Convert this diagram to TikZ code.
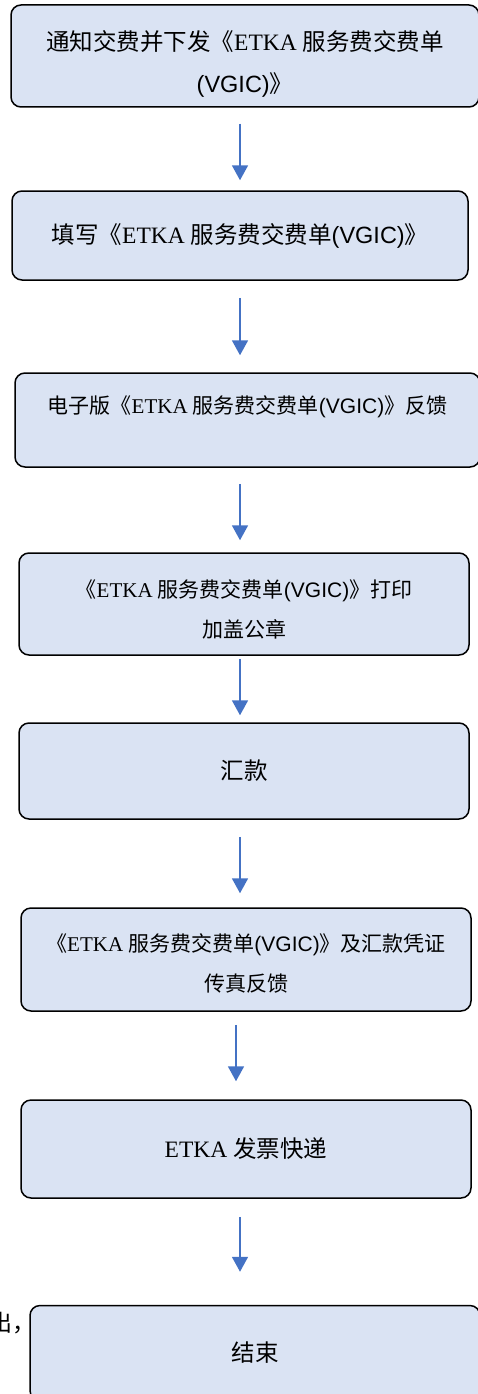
\documentclass[tikz,border=0pt]{standalone}
\usepackage{fontspec}
\setmainfont{Liberation Serif}
\setsansfont{Liberation Sans}
\newfontfamily\cjk{Noto Sans CJK SC}
\usetikzlibrary{arrows.meta}
\newcommand{\zh}[1]{{\cjk #1}}
\newcommand{\vgic}{{\sffamily(VGIC)}}
\newcommand{\lift}[1]{\rule{0pt}{#1}}
\definecolor{boxfill}{HTML}{DAE3F3}
\definecolor{arrowblue}{HTML}{4472C4}
\tikzset{
  stepbox/.style={draw=black, line width=1.5pt, fill=boxfill, rounded corners=10pt,
    align=center, inner sep=0pt, font=\fontsize{23.5}{42}\selectfont},
  small/.style={font=\fontsize{21}{40}\selectfont},
  flow/.style={draw=arrowblue, line width=1.8pt, -{Triangle[length=15pt,width=16pt]}}
}

\begin{document}
\begin{tikzpicture}[x=1pt,y=-1pt]
\useasboundingbox (0,0) rectangle (478,1394);
\coordinate (axis) at (240,0);
\coordinate (axisb) at (236,0);

\node[stepbox, minimum width=468pt, minimum height=102pt] (b1) at (245,56)
  {\lift{35pt}\zh{通知交费并下发《}ETKA \zh{服务费交费单}\\\vgic\zh{》}};
\node[stepbox, minimum width=456pt, minimum height=89pt] (b2) at (240,235.5)
  {\zh{填写《}ETKA \zh{服务费交费单}\vgic\zh{》}};
\node[stepbox, small, minimum width=465pt, minimum height=94pt, text depth=30pt] (b3) at (247.5,420)
  {\zh{电子版《}ETKA \zh{服务费交费单}\vgic\zh{》反馈}};
\node[stepbox, small, minimum width=450pt, minimum height=102pt] (b4) at (244,604)
  {\lift{28.5pt}\zh{《}ETKA \zh{服务费交费单}\vgic\zh{》打印}\\\zh{加盖公章}};
\node[stepbox, minimum width=450pt, minimum height=96pt] (b5) at (244,771)
  {\zh{汇款}};
\node[stepbox, small, minimum width=450pt, minimum height=103pt] (b6) at (246,959.5)
  {\lift{26.5pt}\zh{《}ETKA \zh{服务费交费单}\vgic\zh{》及汇款凭证}\\\zh{传真反馈}};
\node[stepbox, minimum width=450pt, minimum height=98pt] (b7) at (246,1149)
  {ETKA \zh{发票快递}};
\node[stepbox, minimum width=450pt, minimum height=95pt] (b8) at (255,1353)
  {\zh{结束}};
\node[anchor=west, inner sep=0pt, font=\fontsize{23}{28}\selectfont] (cut) at (-11,1323)
  {\zh{出，}};

\draw[flow, shorten <=16pt, shorten >=10pt] (b1.south -| axis) -- (b2.north -| axis);
\draw[flow, shorten <=17pt, shorten >=17pt] (b2.south -| axis) -- (b3.north -| axis);
\draw[flow, shorten <=16pt, shorten >=12pt] (b3.south -| axis) -- (b4.north -| axis);
\draw[flow, shorten <=3pt, shorten >=7pt] (b4.south -| axis) -- (b5.north -| axis);
\draw[flow, shorten <=17pt, shorten >=14pt] (b5.south -| axis) -- (b6.north -| axis);
\draw[flow, shorten <=13pt, shorten >=18pt] (b6.south -| axisb) -- (b7.north -| axisb);
\draw[flow, shorten <=18pt, shorten >=33pt] (b7.south -| axis) -- (b8.north -| axis);
\end{tikzpicture}
\end{document}
